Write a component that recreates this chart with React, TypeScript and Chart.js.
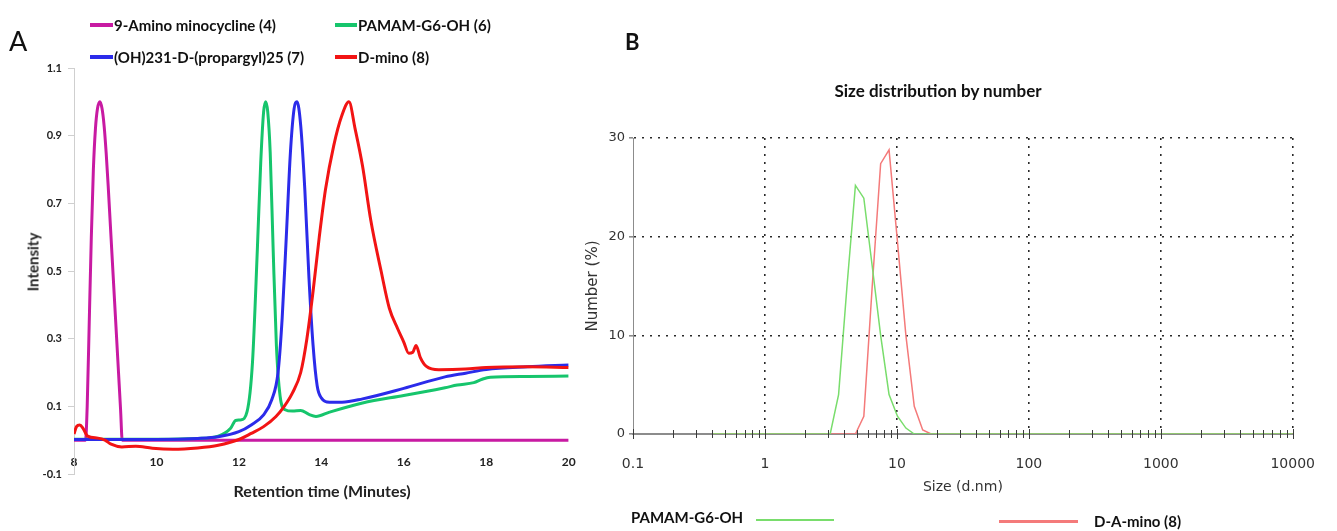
import React, { useEffect, useRef } from 'react';
import { Chart, registerables } from 'chart.js';

Chart.register(...registerables);

// ---------- Panel A : GPC traces (retention time in minutes, normalised intensity) ----------
const AMINO_T = [8, 8.28, 8.32, 8.37, 8.42, 8.47, 8.52, 8.57, 8.63, 8.68, 8.73, 8.78, 8.83, 8.88, 8.93, 8.98, 9.03, 9.08, 9.13, 9.17, 20];
const AMINO_I = [0, 0, 0.1, 0.35, 0.6, 0.8, 0.92, 0.98, 1.0, 0.98, 0.93, 0.85, 0.75, 0.64, 0.53, 0.42, 0.31, 0.2, 0.09, 0, 0];

const PAMAM_T = [8, 9, 10, 11, 11.5, 11.8, 11.92, 12.05, 12.2, 12.33, 12.45, 12.53, 12.6, 12.65, 12.7, 12.76, 12.83, 12.91, 13.0, 13.12, 13.3, 13.5, 13.7, 13.87, 14.2, 15, 16, 16.5, 17, 17.3, 17.7, 17.9, 18.1, 19, 20];
const PAMAM_I = [0.003, 0.003, 0.003, 0.005, 0.012, 0.035, 0.058, 0.06, 0.085, 0.23, 0.57, 0.82, 0.97, 1.0, 0.97, 0.85, 0.57, 0.28, 0.13, 0.09, 0.086, 0.088, 0.076, 0.07, 0.083, 0.11, 0.132, 0.143, 0.155, 0.163, 0.17, 0.18, 0.186, 0.188, 0.19];

const PROP_T = [8, 9, 10, 11, 11.5, 12, 12.3, 12.6, 12.8, 12.95, 13.05, 13.15, 13.25, 13.34, 13.41, 13.5, 13.6, 13.7, 13.8, 13.9, 14.0, 14.2, 14.5, 15, 16, 17, 17.5, 18, 19, 20];
const PROP_I = [0.002, 0.002, 0.002, 0.005, 0.01, 0.025, 0.045, 0.075, 0.12, 0.2, 0.36, 0.6, 0.85, 0.98, 1.0, 0.93, 0.74, 0.48, 0.28, 0.16, 0.125, 0.112, 0.112, 0.122, 0.153, 0.187, 0.198, 0.209, 0.217, 0.222];

const DMINO_T = [8, 8.06, 8.14, 8.22, 8.33, 8.58, 8.75, 8.9, 9.16, 9.5, 9.9, 10.4, 11, 11.5, 12, 12.3, 12.6, 12.9, 13.1, 13.3, 13.5, 13.65, 13.8, 13.95, 14.1, 14.3, 14.5, 14.67, 14.82, 15.0, 15.2, 15.45, 15.65, 15.85, 16.0, 16.12, 16.22, 16.3, 16.4, 16.55, 16.85, 17.5, 18, 19, 20];
const DMINO_I = [0.018, 0.04, 0.045, 0.035, 0.012, 0.006, 0.0, -0.012, -0.02, -0.018, -0.024, -0.027, -0.023, -0.015, 0.002, 0.02, 0.04, 0.07, 0.1, 0.14, 0.2, 0.3, 0.44, 0.6, 0.74, 0.87, 0.96, 1.0, 0.92, 0.81, 0.65, 0.5, 0.39, 0.33, 0.29, 0.257, 0.26, 0.28, 0.245, 0.218, 0.208, 0.21, 0.215, 0.217, 0.215];

const A_X_MIN = 8;
const A_X_MAX = 20;
const A_X_STEP = 2;
const A_Y_MIN = -0.1;
const A_Y_MAX = 1.1;
const A_Y_STEP = 0.2;

// ---------- Panel B : DLS size distribution by number ----------
const SIZE_NM = [0.4, 2.696, 3.122, 3.615, 4.187, 4.849, 5.615, 6.503, 7.531, 8.721, 10.1, 11.7, 13.54, 15.69, 18.17, 10000];
const PAMAM_PCT = [0, 0, 0, 4.0, 15.0, 25.2, 23.9, 17.0, 10.0, 4.0, 1.8, 0.6, 0, 0, 0, 0];
const DAMINO_PCT = [0, 0, 0, 0, 0, 0, 1.8, 15.0, 27.4, 28.8, 19.5, 10.0, 2.8, 0.4, 0, 0];
const SIZE_DECADES = [0.1, 1, 10, 100, 1000, 10000];
const B_Y_MAX = 30;
const B_Y_STEP = 10;

const MAGENTA = '#C81AA2';
const GREEN = '#16C56C';
const BLUE = '#2B2BEA';
const RED = '#F21414';
const LGREEN = '#79DD6C';
const LRED = '#F47A7A';

const BOLD = "Lato, 'Open Sans', sans-serif";
const PLAIN = "'DejaVu Sans', 'Liberation Sans', sans-serif";

const toXY = (xs: number[], ys: number[]) => xs.map((x, i) => ({ x, y: ys[i] }));

const minorTicksPlugin = {
  id: 'minorTicks',
  afterDatasetsDraw(chart: any) {
    const xs = chart.scales.x;
    const y0 = chart.chartArea.bottom;
    const ctx = chart.ctx;
    ctx.save();
    ctx.strokeStyle = '#3a3a3a';
    ctx.lineWidth = 1;
    const mark = (v: number, h: number) => {
      const px = Math.round(xs.getPixelForValue(v)) + 0.5;
      ctx.beginPath();
      ctx.moveTo(px, y0 - h);
      ctx.lineTo(px, y0 + h);
      ctx.stroke();
    };
    for (let k = 0; k < SIZE_DECADES.length - 1; k++) {
      const d = SIZE_DECADES[k];
      for (let m = 1; m <= 9; m++) mark(d * m, m === 1 ? 5 : 4);
    }
    mark(SIZE_DECADES[SIZE_DECADES.length - 1], 5);
    ctx.restore();
  },
};

const abs = (left: number, top: number, extra: any = {}) => ({
  position: 'absolute' as const,
  left,
  top,
  transform: 'translateY(-50%)',
  whiteSpace: 'nowrap' as const,
  lineHeight: 1,
  ...extra,
});

const centered = (left: number, top: number, extra: any = {}) => ({
  position: 'absolute' as const,
  left,
  top,
  transform: 'translate(-50%, -50%)',
  whiteSpace: 'nowrap' as const,
  lineHeight: 1,
  ...extra,
});

export default function App() {
  const refA = useRef<HTMLCanvasElement | null>(null);
  const refB = useRef<HTMLCanvasElement | null>(null);

  useEffect(() => {
    const lineDs = (label: string, xs: number[], ys: number[], color: string, order: number) => ({
      label,
      data: toXY(xs, ys),
      borderColor: color,
      backgroundColor: color,
      borderWidth: 3,
      pointRadius: 0,
      cubicInterpolationMode: 'monotone' as const,
      fill: false,
      order,
    });

    const chartA = new Chart(refA.current as HTMLCanvasElement, {
      type: 'line',
      data: {
        datasets: [
          lineDs('D-mino (8)', DMINO_T, DMINO_I, RED, 0),
          lineDs('(OH)231-D-(propargyl)25 (7)', PROP_T, PROP_I, BLUE, 1),
          lineDs('PAMAM-G6-OH (6)', PAMAM_T, PAMAM_I, GREEN, 2),
          lineDs('9-Amino minocycline (4)', AMINO_T, AMINO_I, MAGENTA, 3),
        ],
      },
      options: {
        animation: false,
        responsive: true,
        maintainAspectRatio: false,
        layout: { padding: { left: 0, right: 21, top: 68, bottom: 57 } },
        plugins: { legend: { display: false }, tooltip: { enabled: false } },
        scales: {
          x: {
            type: 'linear',
            position: { y: 0 },
            min: A_X_MIN,
            max: A_X_MAX,
            ticks: {
              stepSize: A_X_STEP,
              padding: 14.4,
              color: '#222',
              font: { family: BOLD, size: 12, weight: 'bold' },
              maxRotation: 0,
            },
            grid: { display: false, drawTicks: false },
            border: { display: false },
            title: { display: false },
          },
          y: {
            type: 'linear',
            min: A_Y_MIN,
            max: A_Y_MAX,
            ticks: {
              stepSize: A_Y_STEP,
              padding: 6,
              color: '#222',
              font: { family: BOLD, size: 11, weight: 'bold' },
              callback: (v: any) => Number(v).toFixed(1),
            },
            grid: { drawOnChartArea: false, drawTicks: true, tickLength: 6, color: '#cfcfcf' },
            border: { display: true, color: '#cfcfcf', width: 1 },
            afterFit: (s: any) => {
              s.width = 74;
            },
          },
        },
      },
    } as any);

    const chartB = new Chart(refB.current as HTMLCanvasElement, {
      type: 'line',
      data: {
        datasets: [
          {
            label: 'PAMAM-G6-OH',
            data: toXY(SIZE_NM, PAMAM_PCT),
            borderColor: LGREEN,
            borderWidth: 1.5,
            pointRadius: 0,
            tension: 0,
            fill: false,
            order: 0,
          },
          {
            label: 'D-A-mino (8)',
            data: toXY(SIZE_NM, DAMINO_PCT),
            borderColor: LRED,
            borderWidth: 1.5,
            pointRadius: 0,
            tension: 0,
            fill: false,
            order: 1,
          },
        ],
      },
      options: {
        animation: false,
        responsive: true,
        maintainAspectRatio: false,
        layout: { padding: { left: 0, right: 26, top: 138, bottom: 0 } },
        plugins: { legend: { display: false }, tooltip: { enabled: false } },
        scales: {
          x: {
            type: 'logarithmic',
            min: SIZE_DECADES[0],
            max: SIZE_DECADES[SIZE_DECADES.length - 1],
            afterBuildTicks: (s: any) => {
              s.ticks = SIZE_DECADES.map((v) => ({ value: v }));
            },
            ticks: {
              autoSkip: false,
              maxRotation: 0,
              padding: 22,
              color: '#333',
              font: { family: PLAIN, size: 14 },
              callback: (v: any) => String(v),
            },
            grid: {
              color: (c: any) => (c.index === 0 ? 'rgba(0,0,0,0)' : '#2a2a2a'),
              lineWidth: 1.6,
              drawTicks: false,
            },
            border: { display: true, color: '#8c8c8c', width: 2, dash: [2, 6] },
            title: {
              display: true,
              text: 'Size (d.nm)',
              color: '#333',
              font: { family: PLAIN, size: 14 },
              padding: { top: 0, bottom: 35 },
            },
            afterFit: (s: any) => {
              s.height = 97;
            },
          },
          y: {
            type: 'linear',
            min: 0,
            max: B_Y_MAX,
            ticks: {
              stepSize: B_Y_STEP,
              padding: 4,
              color: '#333',
              font: { family: PLAIN, size: 13 },
            },
            grid: {
              color: (c: any) => (c.tick && c.tick.value === 0 ? 'rgba(0,0,0,0)' : '#2a2a2a'),
              lineWidth: 1.6,
              drawTicks: true,
              tickLength: 4,
              tickColor: '#8c8c8c',
            },
            border: { display: true, color: '#8c8c8c', width: 1, dash: [2, 6] },
            title: {
              display: true,
              text: 'Number (%)',
              color: '#333',
              font: { family: PLAIN, size: 15 },
              padding: { top: 14, bottom: 0 },
            },
            afterFit: (s: any) => {
              s.width = 63;
            },
          },
        },
      },
      plugins: [minorTicksPlugin],
    } as any);

    return () => {
      chartA.destroy();
      chartB.destroy();
    };
  }, []);

  const legendText = { fontFamily: BOLD, fontWeight: 700, fontSize: 15, color: '#111' };
  const swatch = (left: number, top: number, color: string, width: number, h = 3) => (
    <div style={{ position: 'absolute', left, top: top - h / 2, width, height: h, background: color }} />
  );

  return (
    <div
      style={{
        position: 'absolute',
        left: 0,
        top: 0,
        width: 1337,
        height: 531,
        background: '#fff',
        overflow: 'hidden',
      }}
    >
      <div style={{ position: 'absolute', left: 0, top: 0, width: 590, height: 531 }}>
        <canvas ref={refA} />
      </div>
      <div style={{ position: 'absolute', left: 570, top: 0, width: 767, height: 531 }}>
        <canvas ref={refB} />
      </div>

      {/* Panel A labels */}
      <div style={abs(9, 40, { fontFamily: BOLD, fontSize: 27, color: '#111' })}>A</div>
      {swatch(90, 25, MAGENTA, 23, 4)}
      <div style={abs(114, 25, legendText)}>9-Amino minocycline (4)</div>
      {swatch(335, 25, GREEN, 22, 4)}
      <div style={abs(358, 25, legendText)}>PAMAM-G6-OH (6)</div>
      {swatch(90, 57, BLUE, 23, 4)}
      <div style={abs(114, 57, legendText)}>(OH)231-D-(propargyl)25 (7)</div>
      {swatch(335, 57, RED, 22, 4)}
      <div style={abs(358, 57, legendText)}>D-mino (8)</div>
      <div
        style={{
          ...centered(33, 262, {
            fontFamily: BOLD,
            fontWeight: 700,
            fontSize: 15,
            color: '#222',
          }),
          transform: 'translate(-50%, -50%) rotate(-90deg)',
        }}
      >
        Intensity
      </div>
      <div style={centered(322, 491, { fontFamily: BOLD, fontWeight: 700, fontSize: 16, color: '#222' })}>
        Retention time (Minutes)
      </div>

      {/* Panel B labels */}
      <div style={abs(625, 42, { fontFamily: BOLD, fontWeight: 700, fontSize: 22, color: '#111' })}>B</div>
      <div style={centered(938, 90, { fontFamily: BOLD, fontWeight: 700, fontSize: 17, color: '#111' })}>
        Size distribution by number
      </div>
      <div style={abs(631, 517, { fontFamily: BOLD, fontWeight: 700, fontSize: 15, color: '#111' })}>PAMAM-G6-OH</div>
      {swatch(756, 520, LGREEN, 78, 2.5)}
      {swatch(999, 521, LRED, 79, 3)}
      <div style={abs(1094, 521, { fontFamily: BOLD, fontWeight: 700, fontSize: 15, color: '#111' })}>D-A-mino (8)</div>
    </div>
  );
}
